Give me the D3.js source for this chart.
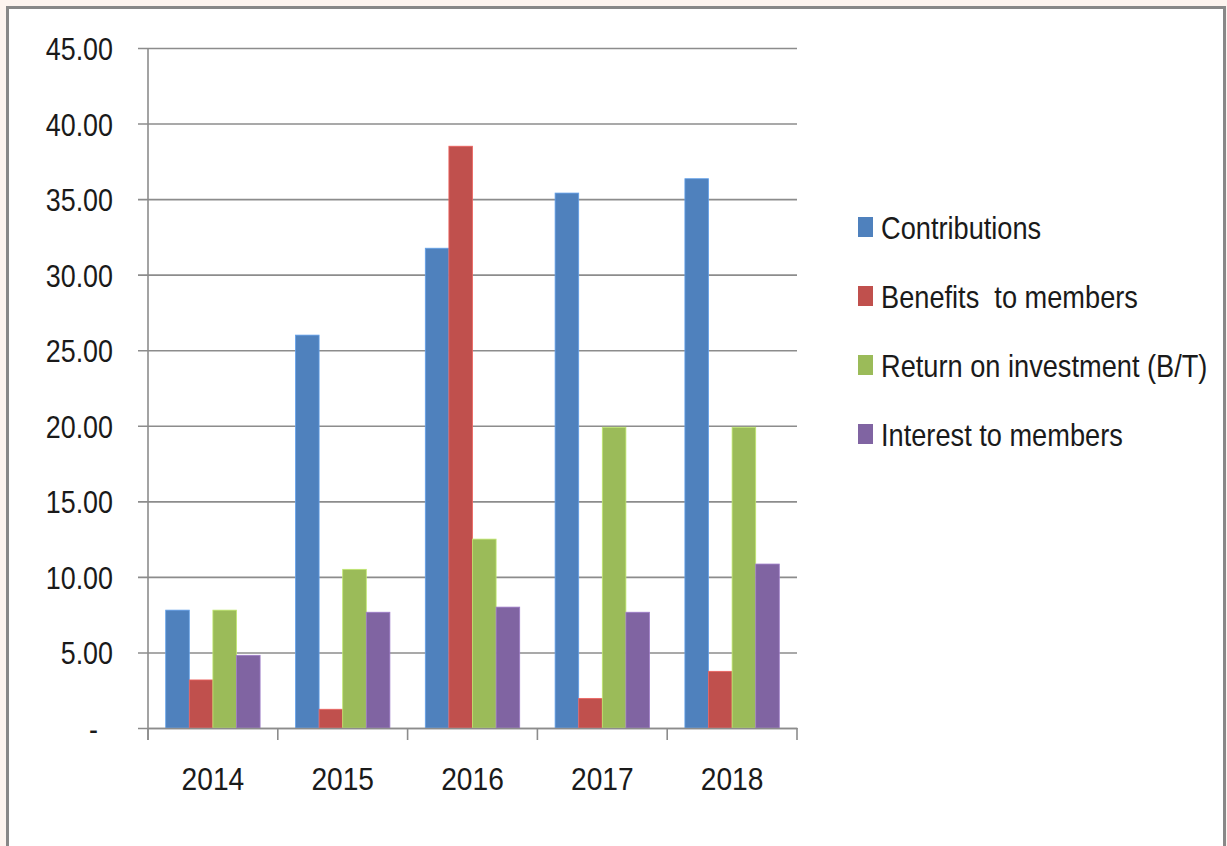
<!DOCTYPE html>
<html>
<head>
<meta charset="utf-8">
<script src="https://cdn.jsdelivr.net/npm/d3@7"></script>
<style>
  html, body { margin: 0; padding: 0; background: #fdf4ef; }
  svg { display: block; }
  text { font-family: "Liberation Sans Narrow", "Liberation Sans", sans-serif; fill: #1a1a1a; }
</style>
</head>
<body>
<div id="chart"></div>
<script>
// Fund flows by year

var years = [ '2014', '2015', '2016', '2017', '2018' ];
var seriesNames = [ 'Contributions', 'Benefits  to members', 'Return on investment (B/T)', 'Interest to members' ];
var contributions = [ 7.8, 26.0, 31.75, 35.4, 36.35 ];
var benefits = [ 3.18, 1.24, 38.5, 1.96, 3.75 ];
var returns = [ 7.8, 10.5, 12.5, 19.9, 19.9 ];
var interest = [ 4.81, 7.66, 8.0, 7.66, 10.85 ];
var yTicks = [ 0, 5, 10, 15, 20, 25, 30, 35, 40, 45 ];

var colours = [ '#4f81bd', '#c0504d', '#9bbb59', '#8064a2' ];
var seriesValues = [ contributions, benefits, returns, interest ];

var width = 1227;
var height = 846;
var margin = { top: 48, left: 148 };
var plotW = 649;
var plotH = 680;

// The original font is narrower than anything installed: squeeze glyphs
function squeeze( selection, factor ) {
  selection.each( function() {
    var len = this.getComputedTextLength();
    d3.select( this )
      .attr( 'textLength', len * factor )
      .attr( 'lengthAdjust', 'spacingAndGlyphs' );
  } );
}

var svg = d3.select( '#chart' ).append( 'svg' )
  .attr( 'width', width )
  .attr( 'height', height );

// Frame of the picture
svg.append( 'rect' )
  .attr( 'x', 7.5 )
  .attr( 'y', 7.5 )
  .attr( 'width', 1217 )
  .attr( 'height', 850 )
  .attr( 'fill', 'white' )
  .attr( 'stroke', '#888' )
  .attr( 'stroke-width', 3 );

var g = svg.append( 'g' )
  .attr( 'transform', 'translate(' + margin.left + ',' + margin.top + ')' );

var x0 = d3.scaleBand()
  .domain( years )
  .range( [ 0, plotW ] );

// Excel style: gap width 150% of a bar
var barW = x0.bandwidth() / 5.5;
var x1 = d3.scaleBand()
  .domain( d3.range( seriesNames.length ) )
  .range( [ barW * 0.75, barW * 4.75 ] );

var y = d3.scaleLinear()
  .domain( [ 0, 45 ] )
  .range( [ plotH, 0 ] );

// Gridlines and y labels
var yAxis = g.append( 'g' )
  .attr( 'class', 'y axis' )
  .call( d3.axisLeft( y )
    .tickValues( yTicks )
    .tickSizeInner( -plotW )
    .tickSizeOuter( 0 )
    .tickPadding( 35 )
    .tickFormat( function( d ) {
      return d === 0 ? '-' : d3.format( '.2f' )( d );
    } ) );
yAxis.select( '.domain' ).remove();
yAxis.selectAll( '.tick line' )
  .attr( 'x1', -10 )
  .attr( 'stroke', '#8c8c8c' )
  .attr( 'stroke-width', 1.6 );
yAxis.selectAll( '.tick text' )
  .attr( 'font-size', 32 )
  .attr( 'fill', '#1a1a1a' )
  .attr( 'dy', '0.36em' )
  .call( squeeze, 0.84 );
yAxis.selectAll( '.tick' ).filter( function( d ) { return d === 0; } )
  .select( 'text' )
  .attr( 'dx', -15 );

// Bars
var groups = g.selectAll( '.year' )
  .data( years )
  .enter().append( 'g' )
  .attr( 'class', 'year' )
  .attr( 'transform', function( d ) {
    return 'translate(' + x0( d ) + ',0)';
  } );

groups.selectAll( 'rect' )
  .data( function( d, i ) {
    return seriesValues.map( function( s, k ) {
      return { k: k, v: s[ i ] };
    } );
  } )
  .enter().append( 'rect' )
  .attr( 'x', function( d ) { return x1( d.k ); } )
  .attr( 'width', x1.bandwidth() )
  .attr( 'y', function( d ) { return y( d.v ); } )
  .attr( 'height', function( d ) { return plotH - y( d.v ); } )
  .attr( 'fill', function( d ) { return colours[ d.k ]; } )
  .attr( 'stroke', function( d ) { return d3.color( colours[ d.k ] ).brighter( 0.6 ); } )
  .attr( 'stroke-width', 0.8 );

// Axis lines, category ticks and labels
g.append( 'line' )
  .attr( 'x1', 0 ).attr( 'x2', 0 )
  .attr( 'y1', 0 ).attr( 'y2', plotH + 12 )
  .attr( 'stroke', '#8c8c8c' )
  .attr( 'stroke-width', 1.6 );

var xAxis = g.append( 'g' )
  .attr( 'class', 'x axis' )
  .attr( 'transform', 'translate(0,' + plotH + ')' )
  .call( d3.axisBottom( x0 )
    .tickSize( 0 )
    .tickPadding( 62 ) );
xAxis.select( '.domain' )
  .attr( 'stroke', '#8c8c8c' )
  .attr( 'stroke-width', 1.6 );
xAxis.selectAll( '.tick text' )
  .attr( 'font-size', 32 )
  .attr( 'fill', '#1a1a1a' )
  .attr( 'dy', '0' )
  .call( squeeze, 0.88 );

// Boundary ticks between categories
xAxis.selectAll( '.bound' )
  .data( years.concat( [ null ] ) )
  .enter().append( 'line' )
  .attr( 'class', 'bound' )
  .attr( 'x1', function( d ) { return d === null ? plotW : x0( d ); } )
  .attr( 'x2', function( d ) { return d === null ? plotW : x0( d ); } )
  .attr( 'y1', 0 )
  .attr( 'y2', 12 )
  .attr( 'stroke', '#8c8c8c' )
  .attr( 'stroke-width', 1.6 );

// Legend
var legend = svg.append( 'g' )
  .attr( 'class', 'legend' )
  .attr( 'transform', 'translate(858,227)' );

var item = legend.selectAll( '.item' )
  .data( seriesNames )
  .enter().append( 'g' )
  .attr( 'class', 'item' )
  .attr( 'transform', function( d, i ) {
    return 'translate(0,' + ( i * 69 ) + ')';
  } );

item.append( 'rect' )
  .attr( 'x', 0 )
  .attr( 'y', -10 )
  .attr( 'width', 15 )
  .attr( 'height', 20 )
  .attr( 'fill', function( d, i ) { return colours[ i ]; } );

// Narrow the legend labels with a scale so their box is narrow too
item.append( 'g' )
  .attr( 'transform', 'translate(23,0) scale(0.85,1)' )
  .append( 'text' )
  .attr( 'x', 0 )
  .attr( 'dy', '0.36em' )
  .attr( 'font-size', 32 )
  .style( 'white-space', 'pre' )
  .text( function( d ) { return d; } );
</script>
</body>
</html>
